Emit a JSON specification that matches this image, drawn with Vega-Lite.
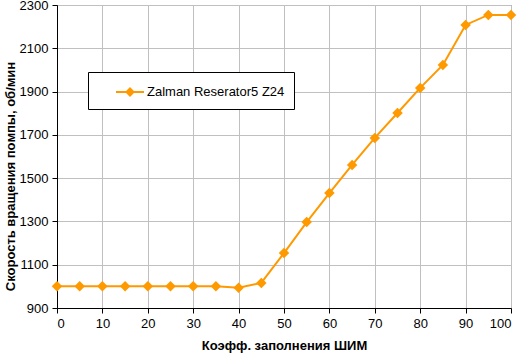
{
  "$schema": "https://vega.github.io/schema/vega-lite/v6.json",
  "width": 454,
  "height": 303,
  "autosize": "none",
  "padding": {"left": 57, "top": 5, "right": 9, "bottom": 47},
  "background": "white",
  "config": {
    "font": "Liberation Sans",
    "view": {"stroke": "#808080"},
    "axis": {
      "gridColor": "#C0C0C0",
      "gridWidth": 1,
      "domainColor": "black",
      "tickColor": "black",
      "tickSize": 5,
      "labelFont": "Liberation Sans",
      "labelFontSize": 13,
      "labelColor": "black",
      "titleFont": "Liberation Sans",
      "titleFontSize": 13,
      "titleFontWeight": "bold",
      "titleColor": "black"
    }
  },
  "data": {
    "values": [
      {"x": 0, "y": 1000, "s": "Zalman Reserator5 Z24"},
      {"x": 5, "y": 1000, "s": "Zalman Reserator5 Z24"},
      {"x": 10, "y": 1000, "s": "Zalman Reserator5 Z24"},
      {"x": 15, "y": 1000, "s": "Zalman Reserator5 Z24"},
      {"x": 20, "y": 1000, "s": "Zalman Reserator5 Z24"},
      {"x": 25, "y": 1000, "s": "Zalman Reserator5 Z24"},
      {"x": 30, "y": 1000, "s": "Zalman Reserator5 Z24"},
      {"x": 35, "y": 1000, "s": "Zalman Reserator5 Z24"},
      {"x": 40, "y": 994, "s": "Zalman Reserator5 Z24"},
      {"x": 45, "y": 1016, "s": "Zalman Reserator5 Z24"},
      {"x": 50, "y": 1154, "s": "Zalman Reserator5 Z24"},
      {"x": 55, "y": 1297, "s": "Zalman Reserator5 Z24"},
      {"x": 60, "y": 1431, "s": "Zalman Reserator5 Z24"},
      {"x": 65, "y": 1561, "s": "Zalman Reserator5 Z24"},
      {"x": 70, "y": 1686, "s": "Zalman Reserator5 Z24"},
      {"x": 75, "y": 1801, "s": "Zalman Reserator5 Z24"},
      {"x": 80, "y": 1917, "s": "Zalman Reserator5 Z24"},
      {"x": 85, "y": 2023, "s": "Zalman Reserator5 Z24"},
      {"x": 90, "y": 2208, "s": "Zalman Reserator5 Z24"},
      {"x": 95, "y": 2254, "s": "Zalman Reserator5 Z24"},
      {"x": 100, "y": 2254, "s": "Zalman Reserator5 Z24"}
    ]
  },
  "mark": {
    "type": "line",
    "strokeWidth": 2,
    "point": {"shape": "diamond", "size": 110, "filled": true}
  },
  "encoding": {
    "x": {
      "field": "x",
      "type": "quantitative",
      "scale": {"domain": [0, 100], "nice": false},
      "axis": {"values": [0,10,20,30,40,50,60,70,80,90,100], "format": "d", "title": "Коэфф. заполнения ШИМ", "labelPadding": 4, "titlePadding": 9}
    },
    "y": {
      "field": "y",
      "type": "quantitative",
      "scale": {"domain": [900, 2300], "nice": false, "zero": false},
      "axis": {"values": [900,1100,1300,1500,1700,1900,2100,2300], "format": "d", "title": "Скорость вращения помпы, об/мин", "labelPadding": 4, "titleX": -47, "titleY": 171, "titleBaseline": "middle", "titleAlign": "center", "titleAngle": -90}
    },
    "color": {
      "field": "s",
      "type": "nominal",
      "scale": {"domain": ["Zalman Reserator5 Z24"], "range": ["#FF9900"]},
      "legend": {
        "title": null,
        "orient": "none",
        "legendX": 31,
        "legendY": 67,
        "padding": 9,
        "strokeColor": "black",
        "fillColor": "white",
        "symbolType": "M-1.4,0H1.4M0,-0.35L0.35,0L0,0.35L-0.35,0Z",
        "symbolSize": 400,
        "symbolStrokeWidth": 2,
        "symbolFillColor": "#FF9900",
        "symbolStrokeColor": "#FF9900",
        "symbolOffset": 22,
        "labelOffset": 6,
        "labelFont": "Liberation Sans",
        "labelFontSize": 13,
        "labelColor": "black"
      }
    }
  }
}
